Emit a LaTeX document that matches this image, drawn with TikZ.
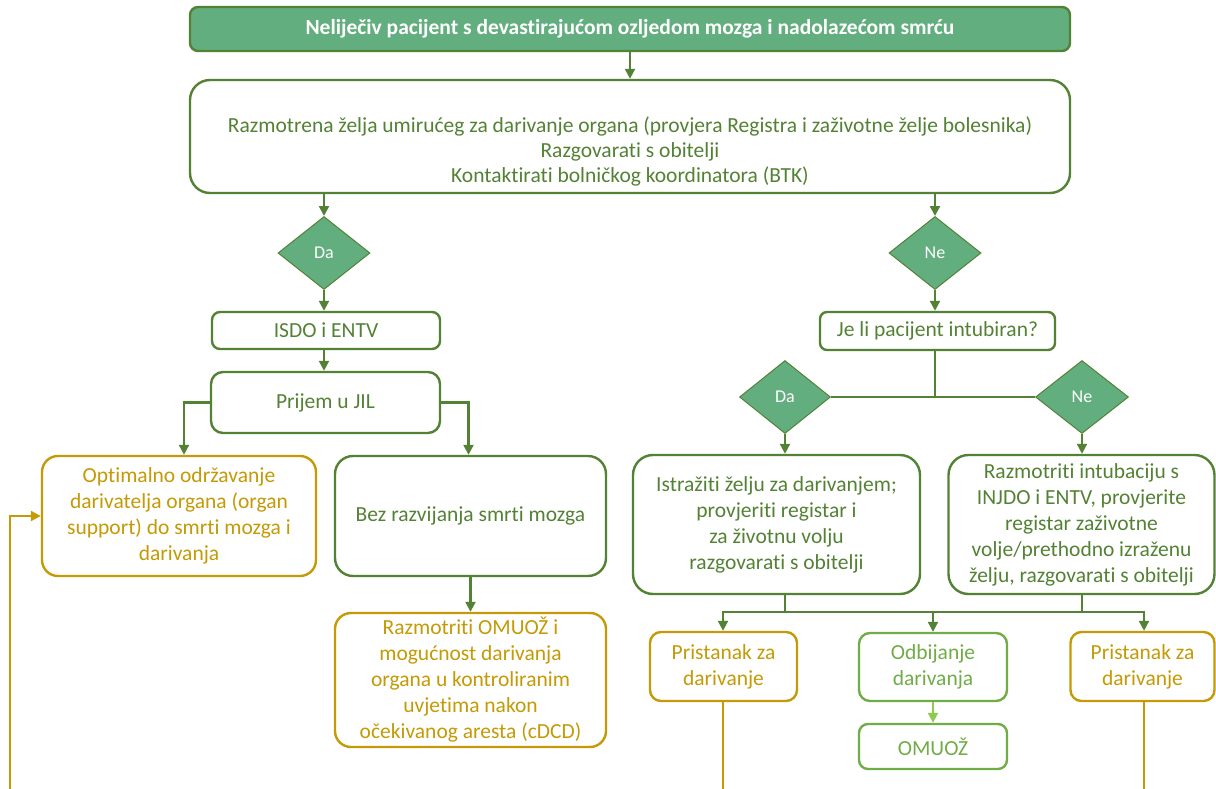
\documentclass[tikz,border=0pt]{standalone}
\usepackage{fontspec}
\setmainfont{Carlito}[Ligatures=NoCommon]
\usetikzlibrary{shapes.geometric,arrows.meta,calc}
\definecolor{dg}{HTML}{548235}
\definecolor{fg}{HTML}{62AE7F}
\definecolor{gd}{HTML}{C49A06}
\definecolor{lg}{HTML}{70AD47}
\definecolor{la}{HTML}{8FCB4F}
\tikzset{
  box/.style={draw=dg, line width=2.4pt, fill=white, align=center, text=dg, inner sep=2pt,
    font=\fontsize{21.5}{26}\selectfont},
  goldbox/.style={box, draw=gd, text=gd},
  lightbox/.style={box, draw=lg, text=lg},
  dec/.style={diamond, draw=dg, line width=1pt, fill=fg, text=white, inner sep=0pt,
    font=\fontsize{18}{20}\selectfont},
  conn/.style={draw=dg, line width=2.2pt},
  arr/.style={conn, -{Triangle[length=10pt,width=10pt]}},
  garr/.style={draw=gd, line width=2.2pt, -{Triangle[length=10pt,width=10pt]}},
  gline/.style={draw=gd, line width=2.2pt},
  larr/.style={draw=la, line width=2.2pt, -{Triangle[length=10pt,width=10pt]}},
}
\begin{document}
\begin{tikzpicture}[x=1pt,y=-1pt]
\useasboundingbox (0,0) rectangle (1216,789);
% top
\node[box, fill=fg, text=white, rounded corners=8pt, minimum width=880pt, minimum height=44pt,
  font=\bfseries\fontsize{21.5}{24}\selectfont] (top) at (630,29)
  {Neliječiv pacijent s devastirajućom ozljedom mozga i nadolazećom smrću};
\node[box, rounded corners=20pt, minimum width=880pt, minimum height=113pt] (main) at (630,136.5) {};
\node[align=center, text=dg, inner sep=0pt, font=\fontsize{21.5}{25}\selectfont] (maintext) at (630,151)
  {Razmotrena želja umirućeg za darivanje organa (provjera Registra i zaživotne želje bolesnika)\\
   Razgovarati s obitelji\\ Kontaktirati bolničkog koordinatora (BTK)};
% left branch
\node[dec, minimum width=92pt, minimum height=73pt] (da1) at (324,253) {Da};
\node[box, rounded corners=8pt, minimum width=228pt, minimum height=37pt] (isdo) at (326,330.5) {ISDO i ENTV};
\node[box, rounded corners=12pt, minimum width=229pt, minimum height=61pt] (prijem) at (325.5,402.5) {Prijem u JIL};
\node[goldbox, rounded corners=16pt, minimum width=274pt, minimum height=120pt] (opt) at (179,516)
  {Optimalno održavanje\\ darivatelja organa (organ\\ support) do smrti mozga i\\ darivanja};
\node[box, rounded corners=18pt, minimum width=271pt, minimum height=120pt] (bez) at (470.5,516)
  {Bez razvijanja smrti mozga};
\node[goldbox, rounded corners=16pt, minimum width=271pt, minimum height=134pt] (razomu) at (470.5,680)
  {Razmotriti OMUOŽ i\\ mogućnost darivanja\\ organa u kontroliranim\\ uvjetima nakon\\ očekivanog aresta (cDCD)};
% right branch
\node[dec, minimum width=92pt, minimum height=73pt] (ne1) at (935,253) {Ne};
\node[box, rounded corners=7pt, minimum width=235pt, minimum height=38pt] (jeli) at (937.5,331) {Je li pacijent intubiran?};
\node[dec, minimum width=91pt, minimum height=73pt] (da2) at (785,397) {Da};
\node[dec, minimum width=93pt, minimum height=73pt] (ne2) at (1082,397) {Ne};
\node[box, rounded corners=20pt, minimum width=287pt, minimum height=139pt] (istr) at (776.5,524.5)
  {Istražiti želju za darivanjem;\\ provjeriti registar i\\ za životnu volju\\ razgovarati s obitelji};
\node[box, rounded corners=20pt, minimum width=266pt, minimum height=139pt] (razint) at (1081.5,524.5)
  {Razmotriti intubaciju s\\ INJDO i ENTV, provjerite\\ registar zaživotne\\ volje/prethodno izraženu\\ želju, razgovarati s obitelji};
\node[goldbox, rounded corners=11pt, minimum width=147pt, minimum height=69pt] (pr1) at (723.5,666.5)
  {Pristanak za\\ darivanje};
\node[lightbox, rounded corners=11pt, minimum width=148pt, minimum height=68pt] (odb) at (933,667)
  {Odbijanje\\ darivanja};
\node[lightbox, rounded corners=9pt, minimum width=148pt, minimum height=45pt] (omu) at (933,746.5)
  {OMUOŽ};
\node[goldbox, rounded corners=11pt, minimum width=144pt, minimum height=69pt] (pr2) at (1142.5,666.5)
  {Pristanak za\\ darivanje};
% coordinates
\coordinate (b1) at (785,612);
\coordinate (b2) at (1082,612);
\coordinate (e1) at (723,789);
\coordinate (e2) at (1144,789);
\coordinate (lb) at (10,789);
% connectors
\draw[arr] (top.south) -- (main.north);
\draw[arr] (da1.north |- main.south) -- (da1.north);
\draw[arr] (ne1.north |- main.south) -- (ne1.north);
\draw[arr] (da1.south) -- (da1.south |- isdo.north);
\draw[arr] (da1.south |- isdo.south) -- (da1.south |- prijem.north);
\draw[arr] (prijem.west) -| ([xshift=5pt]opt.north);
\draw[arr] (prijem.east) -| ([xshift=-2pt]bez.north);
\draw[arr] (bez.south) -- (razomu.north);
\draw[arr] (ne1.south) -- (ne1.south |- jeli.north);
\draw[conn] (ne1.south |- jeli.south) -- (ne1.south |- da2.east);
\draw[conn] (da2.east) -- (ne2.west);
\draw[arr] (da2.south) -- (da2.south |- istr.north);
\draw[arr] (ne2.south) -- (ne2.south |- razint.north);
\draw[conn] (istr.south -| b1) -- (b1);
\draw[conn] (razint.south -| b2) -- (b2);
\draw[conn, line cap=rect] (e1 |- b1) -- (e2 |- b1);
\draw[arr] (e1 |- b1) -- (e1 |- pr1.north);
\draw[arr] (odb.north |- b1) -- (odb.north);
\draw[arr] (e2 |- b1) -- (e2 |- pr2.north);
\draw[larr] (odb.south) -- (omu.north);
\draw[gline] (e1 |- pr1.south) -- (e1);
\draw[gline] (e2 |- pr2.south) -- (e2);
\draw[garr] (lb) |- (opt.west);
\end{tikzpicture}
\end{document}
